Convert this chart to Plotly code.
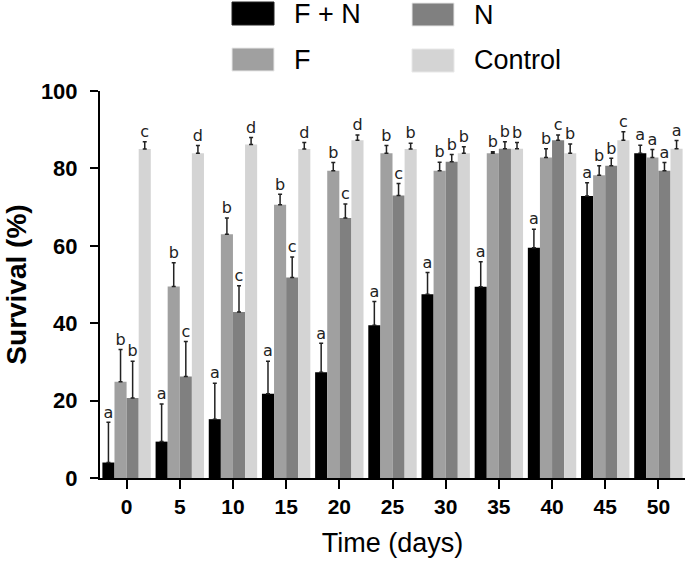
import plotly.graph_objects as go

# ---- data ----
days = [0, 5, 10, 15, 20, 25, 30, 35, 40, 45, 50]
series_names = ["F + N", "F", "N", "Control"]
series_colors = ["#000000", "#a0a0a0", "#808080", "#d4d4d4"]

fn = [4.0, 9.4, 15.2, 21.8, 27.3, 39.5, 47.5, 49.4, 59.5, 72.9, 83.9]
fn_err = [10.4, 9.7, 9.3, 8.4, 7.5, 6.1, 5.6, 6.5, 4.8, 3.4, 2.1]
f = [24.9, 49.5, 63.0, 70.6, 79.4, 83.9, 79.4, 83.9, 82.8, 78.2, 82.8]
f_err = [8.3, 6.1, 4.2, 2.7, 2.1, 2.0, 2.2, 0.4, 2.3, 2.5, 2.1]
n = [20.7, 26.2, 42.9, 51.8, 67.2, 73.0, 81.7, 85.1, 87.3, 80.7, 79.4]
n_err = [9.5, 9.1, 6.8, 5.3, 3.6, 3.1, 1.9, 1.8, 1.3, 1.9, 2.1]
ctrl = [85.0, 83.9, 86.2, 85.0, 87.3, 85.0, 83.9, 85.1, 83.9, 87.3, 85.1]
ctrl_err = [1.9, 2.0, 1.8, 1.7, 1.3, 1.5, 1.7, 1.6, 2.4, 2.2, 2.1]

letters_fn = ["a", "a", "a", "a", "a", "a", "a", "a", "a", "a", "a"]
letters_f = ["b", "b", "b", "b", "b", "b", "b", "b", "b", "b", "a"]
letters_n = ["b", "c", "c", "c", "c", "c", "b", "b", "c", "b", "a"]
letters_ctrl = ["c", "d", "d", "d", "d", "b", "b", "b", "b", "c", "a"]

y_ticks = [0, 20, 40, 60, 80, 100]

values = [fn, f, n, ctrl]
errors = [fn_err, f_err, n_err, ctrl_err]
letters = [letters_fn, letters_f, letters_n, letters_ctrl]

# ---- layout helpers ----
BARGAP = 0.09
step = days[1] - days[0]
bar_w = step * (1 - BARGAP) / len(series_names)

fig = go.Figure()
for i, (name, col, v, e) in enumerate(zip(series_names, series_colors, values, errors)):
    fig.add_trace(go.Bar(
        x=days, y=v, name=name, marker=dict(color=col, line=dict(width=0)),
        error_y=dict(type="data", array=e, arrayminus=[0] * len(e), symmetric=False,
                     color="#222222", thickness=1.5, width=2),
        showlegend=False,
    ))

for i, (v, e, lab) in enumerate(zip(values, errors, letters)):
    off = (i - (len(series_names) - 1) / 2) * bar_w
    fig.add_trace(go.Scatter(
        x=[d + off for d in days],
        y=[a + b + 0.2 for a, b in zip(v, e)],
        text=lab, mode="text", textposition="top center",
        textfont=dict(family="DejaVu Sans", size=16, color="#222222"),
        showlegend=False, hoverinfo="skip", cliponaxis=False,
    ))

# ---- manual legend (large swatches) ----
W, H = 685, 561
L, R, T, B = 100, 0, 91, 83
pw, ph = W - L - R, H - T - B


def px(x):
    return (x - L) / pw


def py(y):
    return (H - B - y) / ph


legend_pos = [(232, 2), (232, 48), (412, 3), (412, 49)]
shapes = []
annotations = []
for name, col, (lx, ly) in zip(series_names, series_colors, legend_pos):
    shapes.append(dict(type="rect", xref="paper", yref="paper",
                       x0=px(lx), x1=px(lx + 42), y0=py(ly + 23), y1=py(ly),
                       fillcolor=col, line=dict(width=1, color="#e8e8e8" if col != "#000000" else "#222222")))
    annotations.append(dict(xref="paper", yref="paper", x=px(lx + 60), y=py(ly + 11.5),
                            text=name, showarrow=False, xanchor="left", yanchor="middle",
                            font=dict(family="Liberation Sans, Arial", size=27, color="#000000")))

fig.update_layout(
    width=W, height=H,
    margin=dict(l=L, r=R, t=T, b=B),
    paper_bgcolor="white", plot_bgcolor="white",
    barmode="group", bargap=BARGAP, bargroupgap=0,
    shapes=shapes, annotations=annotations,
    xaxis=dict(
        range=[days[0] - step / 2, days[-1] + step / 2],
        tickvals=days, ticktext=[str(d) for d in days],
        showgrid=False, zeroline=False, showline=True, linecolor="black", linewidth=2,
        ticks="outside", ticklen=9, tickwidth=2, tickcolor="black",
        tickfont=dict(family="Liberation Sans, Arial", size=21, color="black", weight="bold"),
        title=dict(text="Time (days)", standoff=16,
                   font=dict(family="Liberation Sans, Arial", size=27, color="black")),
    ),
    yaxis=dict(
        range=[0, 100], tickvals=y_ticks,
        showgrid=False, zeroline=False, showline=True, linecolor="black", linewidth=2,
        ticks="outside", ticklen=8, tickwidth=2, tickcolor="black",
        ticklabelstandoff=8,
        tickfont=dict(family="Liberation Sans, Arial", size=22, color="black", weight="bold"),
        title=dict(text="Survival (%)", standoff=6,
                   font=dict(family="Liberation Sans, Arial", size=28, color="black", weight="bold")),
    ),
)

fig.write_html("out.html", config={"displayModeBar": False},
               post_script="document.body.style.margin='0';document.body.style.overflow='hidden';")
